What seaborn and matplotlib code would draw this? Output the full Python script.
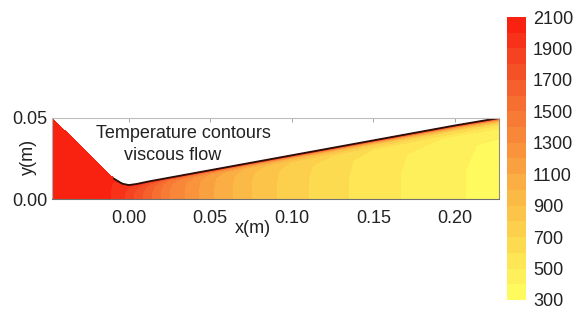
import numpy as np
import seaborn as sns
import matplotlib.pyplot as plt

# nozzle stations (m) and wall height at each station (m)
x_st = [-0.047, -0.035, -0.025, -0.015, -0.009, -0.004, 0.0, 0.005, 0.012,
        0.025, 0.05, 0.075, 0.10, 0.125, 0.15, 0.175, 0.20, 0.227]
h_st = [0.0500, 0.0380, 0.0280, 0.0182, 0.0125, 0.0095, 0.0086, 0.0093, 0.0108,
        0.0132, 0.0178, 0.0224, 0.0270, 0.0316, 0.0362, 0.0408, 0.0454, 0.0500]

# fraction of local height, axis (0) to wall (1)
eta = [0.0, 0.4, 0.7, 0.85, 0.93, 0.97, 0.99, 1.0]

# temperature (K) at each station (rows) and eta (columns)
T = [
    [2060, 2060, 2060, 2060, 2060, 2060, 2060, 2060],
    [2050, 2050, 2050, 2050, 2050, 2050, 2055, 2060],
    [2040, 2040, 2040, 2040, 2040, 2045, 2050, 2060],
    [2020, 2020, 2020, 2020, 2025, 2030, 2040, 2060],
    [1990, 1990, 1995, 2000, 2010, 2020, 2040, 2060],
    [1930, 1930, 1945, 1970, 1990, 2010, 2035, 2060],
    [1850, 1850, 1880, 1920, 1960, 2000, 2030, 2060],
    [1760, 1765, 1800, 1850, 1910, 1975, 2025, 2060],
    [1630, 1640, 1680, 1740, 1840, 1940, 2015, 2060],
    [1400, 1400, 1420, 1480, 1600, 1800, 1980, 2060],
    [1120, 1120, 1130, 1180, 1350, 1650, 1950, 2060],
    [900, 900, 910, 950, 1150, 1500, 1900, 2060],
    [740, 740, 750, 800, 1000, 1400, 1850, 2060],
    [640, 640, 650, 700, 900, 1300, 1800, 2060],
    [540, 540, 550, 600, 800, 1200, 1750, 2060],
    [480, 480, 490, 540, 750, 1150, 1700, 2060],
    [410, 410, 420, 480, 700, 1100, 1650, 2060],
    [370, 370, 380, 450, 650, 1050, 1600, 2060],
]

sns.set_theme(style="white")
plt.rcParams['font.family'] = ['Liberation Sans', 'DejaVu Sans']
plt.rcParams['font.size'] = 13

cmap = sns.blend_palette(['#FFFF60', '#FEE555', '#FCC94A', '#FAAB42',
                          '#F88A3A', '#F66A30', '#F54422', '#FA1A0C'], as_cmap=True)
levels = np.arange(300, 2101, 100)

X = np.tile(np.array(x_st), (len(eta), 1))
Y = np.outer(eta, h_st)
Z = np.array(T).T

fig = plt.figure(figsize=(5.8, 3.15), dpi=100)
ax = fig.add_axes([52/580, 1-199/315, 447/580, 81/315])

cs = ax.contourf(X, Y, Z, levels=levels, cmap=cmap)
# dark wall line through the throat and divergent part
ax.plot(x_st[4:], h_st[4:], color='#2b0f08', lw=1.3)

ax.set_xlim(-0.047, 0.227)
ax.set_ylim(0, 0.05)
ax.set_xticks([0.0, 0.05, 0.10, 0.15, 0.20])
ax.set_yticks([0.0, 0.05])
ax.xaxis.set_major_formatter(plt.FormatStrFormatter('%.2f'))
ax.yaxis.set_major_formatter(plt.FormatStrFormatter('%.2f'))
ax.tick_params(axis='x', direction='in', length=3, width=0.6, color='#999999',
               top=True, bottom=True, pad=8, labelsize=13, labelcolor='#222222')
ax.tick_params(axis='y', direction='in', length=0, pad=3, labelsize=13,
               labelcolor='#222222')
for side, col in [('top', '#bdbdbd'), ('right', '#8c8c70'),
                  ('bottom', '#707070'), ('left', '#b0b0b0')]:
    ax.spines[side].set_visible(True)
    ax.spines[side].set_color(col)
    ax.spines[side].set_linewidth(0.8)

ax.set_xlabel('x(m)', fontsize=13, color='#222222')
ax.xaxis.set_label_coords(0.45, -0.26)
ax.set_ylabel('y(m)', fontsize=13, color='#222222')
ax.yaxis.set_label_coords(-0.034, 0.52)

fig.text(183/580, 1-133/315, 'Temperature contours', ha='center', va='center',
         fontsize=13, color='#222222')
fig.text(173/580, 1-155/315, 'viscous flow', ha='center', va='center',
         fontsize=13, color='#222222')

cax = fig.add_axes([507/580, 1-300/315, 19/580, 283/315])
cb = fig.colorbar(cs, cax=cax, ticks=np.arange(300, 2101, 200))
cb.outline.set_visible(False)
cax.set_ylim(300, 2100)
cax.tick_params(length=0, pad=5, labelsize=13, labelcolor='#222222')

fig.savefig('out.png', dpi=100)
